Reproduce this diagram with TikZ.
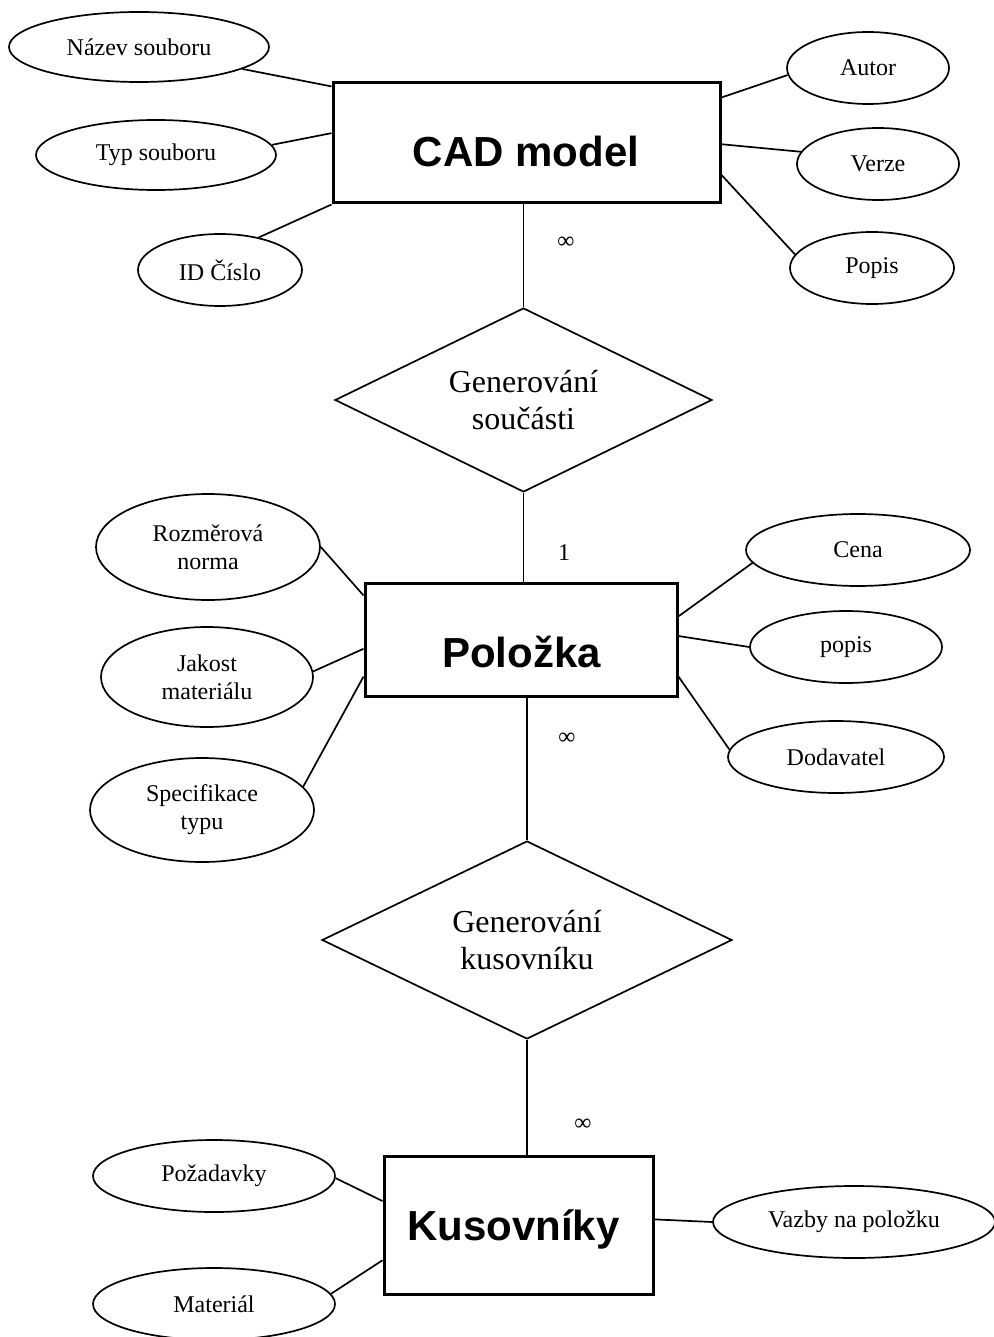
\documentclass[tikz,border=0pt]{standalone}
\usepackage{fontspec}
\setmainfont{Liberation Serif}
\setsansfont{Liberation Sans}
\usetikzlibrary{shapes.geometric,calc}
\tikzset{
  attr/.style={draw, ellipse, line width=1.7pt, inner sep=0pt, font=\fontsize{24}{28}\selectfont, align=center},
  entity/.style={draw, rectangle, line width=3pt, inner sep=0pt},
  etext/.style={font=\fontsize{42}{48}\selectfont\sffamily\bfseries, anchor=base, inner sep=0pt},
  rel/.style={draw, diamond, shape aspect=2, line width=1.7pt, inner sep=0pt, font=\fontsize{32}{37}\selectfont, align=center},
  conn/.style={line width=1.7pt},
  card/.style={font=\fontsize{24}{28}\selectfont, inner sep=0pt}
}
\begin{document}
\begin{tikzpicture}[x=1pt, y=-1pt]
\useasboundingbox (0,0) rectangle (993,1337);

% CAD model
\node[entity, minimum width=387pt, minimum height=120pt] (cad) at (526.5,143) {};
\node[etext] (cadT) at (526,167) {CAD model};
\node[attr, minimum width=260pt, minimum height=70pt] (nazev) at (139,47) {Název souboru};
\node[attr, minimum width=240pt, minimum height=70pt] (typ) at (156,155) {Typ souboru};
\node[attr, minimum width=164pt, minimum height=72pt] (id) at (220,270) {ID Číslo};
\node[attr, minimum width=162pt, minimum height=72pt] (autor) at (868,68) {Autor};
\node[attr, minimum width=162pt, minimum height=72pt] (verze) at (878,164) {Verze};
\node[attr, minimum width=164pt, minimum height=72pt] (popis) at (872,268) {Popis};

\node[rel, minimum width=377pt, minimum height=184pt] (d1) at (523.5,400) {Generování\\součásti};

% Polozka
\node[entity, minimum width=312pt, minimum height=113pt] (pol) at (521,639.5) {};
\node[etext] (polT) at (521.5,667) {Položka};
\node[attr, minimum width=224pt, minimum height=106pt] (rozm) at (208,547) {Rozměrová\\norma};
\node[attr, minimum width=212pt, minimum height=100pt] (jak) at (207,677) {Jakost\\materiálu};
\node[attr, minimum width=224pt, minimum height=104pt] (spec) at (202,810) {Specifikace\\typu};
\node[attr, minimum width=224pt, minimum height=72pt] (cena) at (858,550) {Cena};
\node[attr, minimum width=192pt, minimum height=72pt] (popisP) at (846,647) {popis};
\node[attr, minimum width=216pt, minimum height=72pt] (dodav) at (836,757) {Dodavatel};

\node[rel, minimum width=410pt, minimum height=198pt] (d2) at (527,940) {Generování\\kusovníku};

% Kusovniky
\node[entity, minimum width=269pt, minimum height=138pt] (kus) at (518.5,1225) {};
\node[etext] (kusT) at (513.5,1240) {Kusovníky};
\node[attr, minimum width=242pt, minimum height=72pt] (pozad) at (214,1176) {Požadavky};
\node[attr, minimum width=242pt, minimum height=72pt] (mater) at (214,1304) {Materiál};
\node[attr, minimum width=282pt, minimum height=72pt] (vazby) at (854,1222) {Vazby na položku};

% cardinalities
\node[card] (c1) at (566,243) {∞};
\node[card] (c2) at (564,553) {1};
\node[card] (c3) at (567,739) {∞};
\node[card] (c4) at (583,1125) {∞};

% connectors CAD
\draw[conn] (nazev.-12) -- ($(cad.north west)!0.04!(cad.south west)$);
\draw[conn] (typ.5) -- ($(cad.north west)!0.42!(cad.south west)$);
\draw[conn] (id.40) -- (cad.south west);
\draw[conn] (autor.185) -- ($(cad.north east)!0.13!(cad.south east)$);
\draw[conn] (verze.171) -- ($(cad.north east)!0.51!(cad.south east)$);
\draw[conn] (popis.170) -- ($(cad.north east)!0.76!(cad.south east)$);

% connectors Polozka
\draw[conn] (rozm.0) -- ($(pol.north west)!0.12!(pol.south west)$);
\draw[conn] (jak.3) -- ($(pol.north west)!0.58!(pol.south west)$);
\draw[conn] (spec.13) -- ($(pol.north west)!0.82!(pol.south west)$);
\draw[conn] (cena.187) -- ($(pol.north east)!0.30!(pol.south east)$);
\draw[conn] (popisP.180) -- ($(pol.north east)!0.47!(pol.south east)$);
\draw[conn] (dodav.176) -- ($(pol.north east)!0.82!(pol.south east)$);

% connectors Kusovniky
\draw[conn] (pozad.-1) -- ($(kus.north west)!0.33!(kus.south west)$);
\draw[conn] (mater.5) -- ($(kus.north west)!0.75!(kus.south west)$);
\draw[conn] (vazby.west) -- ($(kus.north east)!0.46!(kus.south east)$);

% relationship lines
\draw[conn] (d1.north) -- (d1.north |- cad.south);
\draw[conn] (d1.south) -- (d1.south |- pol.north);
\draw[conn] (d2.north) -- (d2.north |- pol.south);
\draw[conn] (d2.south) -- (d2.south |- kus.north);
\end{tikzpicture}
\end{document}
